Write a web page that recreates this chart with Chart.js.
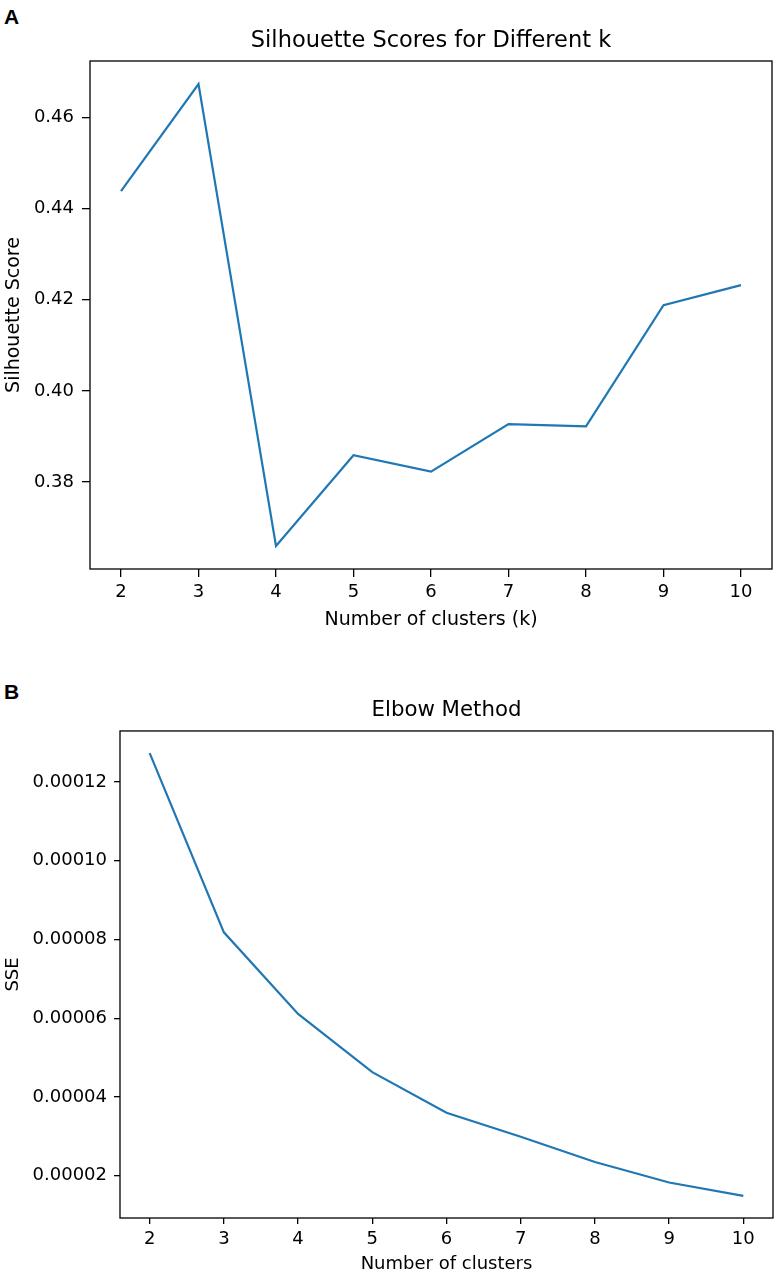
<!DOCTYPE html>
<html>
<head>
<meta charset="utf-8">
<title>Silhouette and Elbow</title>
<script src="https://cdn.jsdelivr.net/npm/chart.js@4.4.0/dist/chart.umd.min.js"></script>
<style>
	body { margin: 0; background: #fff; }
	.panel-label { position: absolute; left: 4px; font-family: 'Liberation Sans', Arial, sans-serif; font-weight: bold; font-size: 21px; color: #000; }
	.wrap { position: absolute; left: 0; }
</style>
</head>
<body>
<div class="panel-label" style="top: 5px;">A</div>
<div class="panel-label" style="top: 680px;">B</div>
<div class="wrap" style="top: 0;"><canvas id="silhouetteChart" width="780" height="640"></canvas></div>
<div class="wrap" style="top: 640px;"><canvas id="elbowChart" width="780" height="635"></canvas></div>
<script>
const kValues = [2, 3, 4, 5, 6, 7, 8, 9, 10];
const silhouetteScores = [0.4438, 0.4673, 0.3660, 0.3859, 0.3823, 0.3927, 0.3922, 0.4188, 0.4232];
const sseValues = [0.0001273, 0.0000818, 0.0000611, 0.0000463, 0.0000360, 0.0000299, 0.0000235, 0.0000183, 0.0000149];
const xTicks = [2, 3, 4, 5, 6, 7, 8, 9, 10];
const silhouetteTicks = [0.38, 0.40, 0.42, 0.44, 0.46];
const sseTicks = [0.00002, 0.00004, 0.00006, 0.00008, 0.00010, 0.00012];

Chart.defaults.font.family = "'DejaVu Sans', sans-serif";
Chart.defaults.color = '#000';

// matplotlib style 5% margins
function limits(values) {
	const lo = Math.min.apply(null, values);
	const hi = Math.max.apply(null, values);
	const m = (hi - lo) * 0.05;
	return { min: lo - m, max: hi + m };
}

const boxPlugin = {
	id: 'box',
	afterDraw: function(chart) {
		const a = chart.chartArea;
		const c = chart.ctx;
		c.save();
		c.strokeStyle = '#000';
		c.lineWidth = 1.3;
		c.strokeRect(a.left, a.top, a.right - a.left, a.bottom - a.top);
		c.restore();
	}
};

function makeChart(id, values, yTicks, s) {
	const xl = limits(kValues);
	const yl = limits(values);
	const points = kValues.map(function(k, i) { return { x: k, y: values[i] }; });
	var ctx = document.getElementById(id).getContext('2d');
	return new Chart(ctx, {
		type: 'line',
		data: {
			datasets: [
				{
					data: points,
					borderColor: '#1f77b4',
					borderWidth: 2.2,
					pointRadius: 0,
					tension: 0,
					fill: false
				}
			]
		},
		plugins: [boxPlugin],
		options: {
			responsive: false,
			animation: false,
			events: [],
			layout: { padding: { left: 0, right: s.padRight, top: 0, bottom: 0 } },
			plugins: {
				legend: { display: false },
				tooltip: { enabled: false },
				title: {
					display: true,
					fullSize: false,
					text: s.title,
					font: { size: s.titleSize, weight: 'normal' },
					color: '#000',
					padding: { top: s.titleTop, bottom: s.titleBottom }
				}
			},
			scales: {
				x: {
					type: 'linear',
					min: xl.min,
					max: xl.max,
					afterBuildTicks: function(axis) {
						axis.ticks = xTicks.map(function(v) { return { value: v }; });
					},
					afterFit: function(scale) { scale.height = s.xHeight; },
					grid: { display: true, drawOnChartArea: false, drawTicks: true, tickLength: s.tickLen, color: '#000', lineWidth: 1.3 },
					border: { display: false },
					ticks: { font: { size: 18 }, padding: s.xTickPad, maxRotation: 0, autoSkip: false },
					title: { display: true, text: s.xTitle, font: { size: s.labelSize }, padding: { top: 0, bottom: s.xTitleBottom } }
				},
				y: {
					type: 'linear',
					min: yl.min,
					max: yl.max,
					afterBuildTicks: function(axis) {
						axis.ticks = yTicks.map(function(v) { return { value: v }; });
					},
					afterFit: function(scale) { scale.width = s.yWidth; },
					grid: { display: true, drawOnChartArea: false, drawTicks: true, tickLength: s.tickLen, color: '#000', lineWidth: 1.3 },
					border: { display: false },
					ticks: {
						font: { size: 18 },
						padding: s.yTickPad,
						autoSkip: false,
						callback: function(v) { return Number(v).toFixed(s.decimals); }
					},
					title: { display: true, text: s.yTitle, font: { size: s.labelSize }, padding: { top: 3, bottom: 0 } }
				}
			}
		}
	});
}

makeChart('silhouetteChart', silhouetteScores, silhouetteTicks, {
	title: 'Silhouette Scores for Different k',
	xTitle: 'Number of clusters (k)',
	yTitle: 'Silhouette Score',
	titleSize: 22.5, labelSize: 19,
	titleTop: 27.5, titleBottom: 6.5,
	padRight: 8, yWidth: 90, xHeight: 71,
	tickLen: 8, xTickPad: 5, yTickPad: 8, xTitleBottom: 9,
	decimals: 2
});

makeChart('elbowChart', sseValues, sseTicks, {
	title: 'Elbow Method',
	xTitle: 'Number of clusters',
	yTitle: 'SSE',
	titleSize: 21.3, labelSize: 18,
	titleTop: 58, titleBottom: 7.4,
	padRight: 7, yWidth: 120, xHeight: 57,
	tickLen: 6, xTickPad: 5, yTickPad: 7, xTitleBottom: 0,
	decimals: 5
});
</script>
</body>
</html>
